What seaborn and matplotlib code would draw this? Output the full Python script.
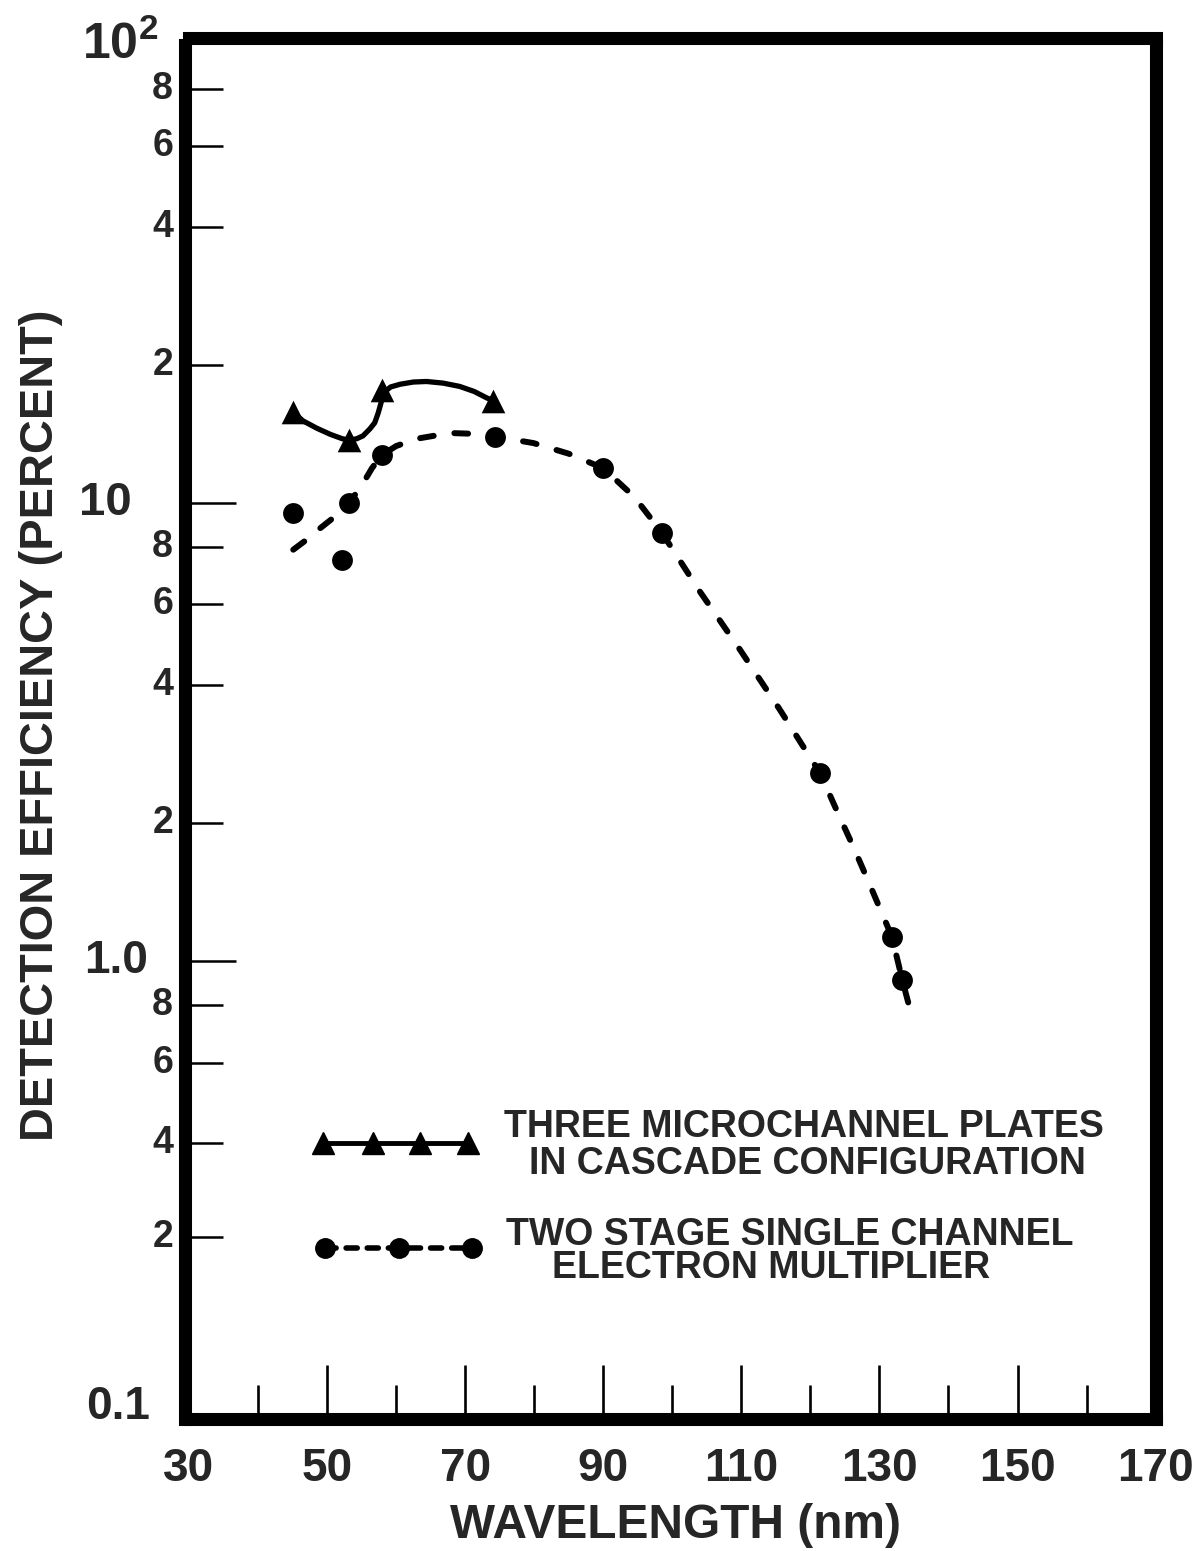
import numpy as np
import pandas as pd
import matplotlib
matplotlib.use("Agg")
import matplotlib.pyplot as plt
import matplotlib.transforms as mtransforms
from matplotlib import font_manager
from matplotlib.ticker import NullFormatter
import seaborn as sns

# ---------------- data ----------------
mcp_wavelength = [45.0, 53.2, 57.9, 74.1]
mcp_efficiency = [15.8, 13.7, 17.6, 16.7]

mcp_curve_x = [45.0, 46.5, 48.5, 50.5, 52.2, 53.2, 54.3, 55.2, 56.2, 56.9, 57.4, 57.8,
               58.2, 59.2, 60.6, 62.5, 64.4, 66.8, 69.2, 71.3, 73.1, 74.1]
mcp_curve_y = [15.8, 15.1, 14.55, 14.1, 13.8, 13.7, 13.8, 14.0, 14.5, 14.95, 15.7, 16.5,
               17.4, 17.9, 18.15, 18.35, 18.4, 18.25, 17.95, 17.5, 16.95, 16.7]

cem_wavelength = [45.1, 52.1, 53.2, 57.9, 74.3, 90.0, 98.5, 121.4, 131.8, 133.3]
cem_efficiency = [9.5, 7.5, 10.0, 12.7, 13.95, 11.9, 8.6, 2.57, 1.13, 0.91]

cem_curve_x = [45.1, 47.0, 49.0, 51.2, 53.2, 55.0, 56.5, 57.9, 60.0, 63.0, 67.8, 71.0,
               74.3, 79.9, 85.0, 90.0, 94.5, 98.5, 104.0, 109.8, 115.5, 121.4, 124.0,
               126.4, 129.0, 131.8, 133.3, 134.9]
cem_curve_y = [7.9, 8.3, 8.8, 9.35, 10.0, 10.9, 11.9, 12.7, 13.3, 13.8, 14.2, 14.15,
               13.95, 13.5, 12.8, 11.9, 10.3, 8.6, 6.4, 4.78, 3.55, 2.57, 2.1,
               1.75, 1.42, 1.13, 0.91, 0.737]

x_major_ticks = [30, 50, 70, 90, 110, 130, 150, 170]
x_minor_ticks = [40, 60, 80, 100, 120, 140, 160]
y_major_ticks = [1.0, 10.0]
y_minor_ticks = [0.25, 0.4, 0.6, 0.8, 2, 4, 6, 8, 20, 40, 60, 80]
y_minor_labels = ["2", "4", "6", "8", "2", "4", "6", "8", "2", "4", "6", "8"]

legend_labels = [["THREE MICROCHANNEL PLATES", "IN CASCADE CONFIGURATION"],
                 ["TWO STAGE SINGLE CHANNEL", "ELECTRON MULTIPLIER"]]

# ---------------- style ----------------
sns.set_style("white")
plt.rcParams["font.family"] = ["Liberation Sans", "DejaVu Sans"]
plt.rcParams["font.weight"] = "bold"
plt.rcParams["mathtext.fontset"] = "custom"
plt.rcParams["mathtext.bf"] = "Liberation Sans:bold"
plt.rcParams["mathtext.rm"] = "Liberation Sans:bold"

have_narrow = any(f.name == "Liberation Sans Narrow" for f in font_manager.fontManager.ttflist)
NARROW = ["Liberation Sans Narrow", "Liberation Sans", "DejaVu Sans"]

W, H = 1192, 1551
fig = plt.figure(figsize=(W / 100, H / 100), dpi=100)
fig.patch.set_facecolor("white")

def fx(px):
    return px / W

def fy(py):
    return 1 - py / H

x0, x1, ytop, ybot = 189, 1155.6, 44.7, 1419
ax = fig.add_axes([fx(x0), fy(ybot), fx(x1 - x0), (ybot - ytop) / H])
ax.set_facecolor("white")

mcp_curve = pd.DataFrame({"x": mcp_curve_x, "y": mcp_curve_y})
cem_curve = pd.DataFrame({"x": cem_curve_x, "y": cem_curve_y})
mcp_pts = pd.DataFrame({"x": mcp_wavelength, "y": mcp_efficiency})
cem_pts = pd.DataFrame({"x": cem_wavelength, "y": cem_efficiency})

dash = (0, (2.3, 3.5))
sns.lineplot(data=mcp_curve, x="x", y="y", sort=False, estimator=None, ax=ax,
             color="black", linewidth=3.8, solid_capstyle="round", zorder=3)
sns.lineplot(data=cem_curve, x="x", y="y", sort=False, estimator=None, ax=ax,
             color="black", linewidth=4.3, linestyle=dash, dash_capstyle="round", zorder=3)
sns.scatterplot(data=mcp_pts, x="x", y="y", ax=ax, marker="^", s=17 ** 2,
                color="black", edgecolor="black", linewidth=0, zorder=4)
sns.scatterplot(data=cem_pts, x="x", y="y", ax=ax, marker="o", s=15 ** 2,
                color="black", edgecolor="black", linewidth=0, zorder=4)

ax.set_yscale("log")
ax.set_xlim(30, 170)
ax.set_ylim(0.1, 100)

# legend samples (in data space)
leg_tri_x = [49.4, 56.6, 63.5, 70.4]
leg_cir_x = [49.7, 60.4, 71.0]
ax.plot(leg_tri_x, [0.4] * len(leg_tri_x), color="black", linewidth=3.5,
        marker="^", markersize=16, zorder=4)
ax.plot(leg_cir_x, [0.236] * len(leg_cir_x), color="black", linewidth=4.0,
        linestyle=(0, (2.0, 1.8)), dash_capstyle="round", marker="o", markersize=14, zorder=4)

# legend text
if have_narrow:
    ltxt = dict(fontsize=31, fontweight="bold", ha="center", va="center", family=NARROW)
else:
    ltxt = dict(fontsize=27, fontweight="bold", ha="center", va="center")
fig.text(fx(804), fy(1127), legend_labels[0][0], **ltxt)
fig.text(fx(807), fy(1164), legend_labels[0][1], **ltxt)
fig.text(fx(790), fy(1235), legend_labels[1][0], **ltxt)
fig.text(fx(771), fy(1268), legend_labels[1][1], **ltxt)

# spines
for side in ["left", "right", "top", "bottom"]:
    sp = ax.spines[side]
    sp.set_visible(True)
    sp.set_color("black")
    sp.set_linewidth(9.4)
    sp.set_capstyle("projecting")
ax.spines["left"].set_position(("outward", 3.2))
ax.spines["top"].set_position(("outward", 4.5))

# x ticks
ax.set_xticks(x_major_ticks)
ax.set_xticklabels([str(v) for v in x_major_ticks])
ax.set_xticks(x_minor_ticks, minor=True)
ax.tick_params(axis="x", which="major", direction="in", length=39, width=1.9,
               labelsize=(38 if have_narrow else 33), pad=20, bottom=True, top=False,
               color="black")
ax.tick_params(axis="x", which="minor", direction="in", length=24.5, width=1.9,
               bottom=True, top=False, color="black")
for lab in ax.get_xticklabels():
    lab.set_fontweight("bold")
    if have_narrow:
        lab.set_family(NARROW)

# y ticks (marks only; labels placed as text)
ax.set_yticks(y_major_ticks)
ax.set_yticks(y_minor_ticks, minor=True)
ax.yaxis.set_major_formatter(NullFormatter())
ax.yaxis.set_minor_formatter(NullFormatter())
ax.tick_params(axis="y", which="major", direction="in", length=37, width=1.8,
               left=True, right=False, color="black")
ax.tick_params(axis="y", which="minor", direction="in", length=27, width=1.8,
               left=True, right=False, color="black")

trans = mtransforms.blended_transform_factory(ax.transAxes, ax.transData)
def axfrac(px):
    return (px - x0) / (x1 - x0)

for v, s in zip(y_minor_ticks, y_minor_labels):
    ax.text(axfrac(173), v, s, transform=trans, ha="right", va="center",
            fontsize=27, fontweight="bold", clip_on=False)
ax.text(axfrac(132), 10, "10", transform=trans, ha="right", va="center",
        fontsize=34, fontweight="bold", clip_on=False)
ax.text(axfrac(148), 1.0, "1.0", transform=trans, ha="right", va="center",
        fontsize=33, fontweight="bold", clip_on=False)
ax.text(axfrac(150), 0.1, "0.1", transform=trans, ha="right", va="baseline",
        fontsize=33, fontweight="bold", clip_on=False)
ax.text(axfrac(158), 100, r"$\mathbf{10^{2}}$", transform=trans, ha="right", va="center",
        fontsize=36, clip_on=False)

ax.set_xlabel("")
ax.set_ylabel("")
ax.grid(False)

if have_narrow:
    fig.text(fx(41), fy(725), "DETECTION EFFICIENCY (PERCENT)", rotation=90,
             ha="center", va="center", fontsize=40, fontweight="bold", family=NARROW)
else:
    fig.text(fx(41), fy(725), "DETECTION EFFICIENCY (PERCENT)", rotation=90,
             ha="center", va="center", fontsize=33.8, fontweight="bold")
fig.text(fx(676), fy(1525), "WAVELENGTH (nm)", ha="center", va="center",
         fontsize=34.4, fontweight="bold")

fig.savefig("out.png", dpi=100, facecolor="white")
